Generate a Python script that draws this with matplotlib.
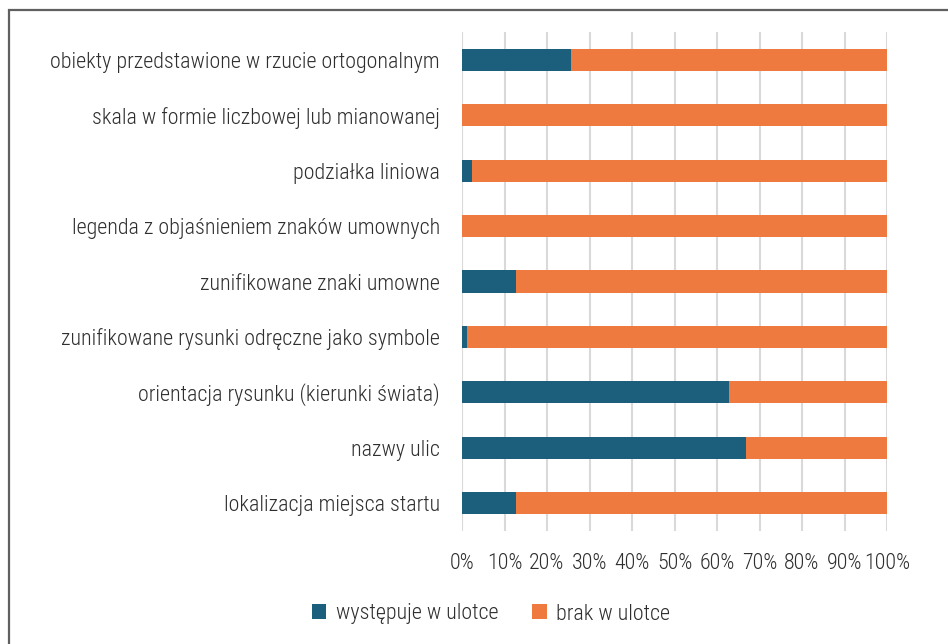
import matplotlib.pyplot as plt
from matplotlib.patches import Rectangle
from matplotlib.ticker import PercentFormatter

plt.rcParams['font.family'] = ['Roboto Condensed', 'DejaVu Sans']
plt.rcParams['font.weight'] = 'light'

# categories, top to bottom
categories = [
    'obiekty przedstawione w rzucie ortogonalnym',
    'skala w formie liczbowej lub mianowanej',
    'podziałka liniowa',
    'legenda z objaśnieniem znaków umownych',
    'zunifikowane znaki umowne',
    'zunifikowane rysunki odręczne jako symbole',
    'orientacja rysunku (kierunki świata)',
    'nazwy ulic',
    'lokalizacja miejsca startu',
]
wystepuje = [25.6, 0.0, 2.4, 0.0, 12.7, 1.2, 62.8, 66.8, 12.7]
brak = [100 - v for v in wystepuje]
series_names = ['występuje w ulotce', 'brak w ulotce']

blue = '#1B5F7C'
orange = '#EE7A3F'
text_col = '#2E2E2E'

fig = plt.figure(figsize=(9.48, 6.44), dpi=100)
ax = fig.add_axes([462 / 948, 1 - 531 / 644, 425 / 948, 499 / 644])

ypos = range(len(categories))
ax.barh(ypos, wystepuje, height=0.4, color=blue, label=series_names[0])
ax.barh(ypos, brak, left=wystepuje, height=0.4, color=orange, label=series_names[1])

ax.set_ylim(len(categories) - 0.5, -0.5)
ax.set_xlim(0, 100)
ax.set_yticks(list(ypos))
ax.set_yticklabels(categories)
ax.set_xticks(range(0, 101, 10))
ax.xaxis.set_major_formatter(PercentFormatter(decimals=0))
ax.tick_params(axis='y', length=0, pad=16, labelsize=15.8, labelcolor=text_col)
ax.tick_params(axis='x', length=0, pad=16, labelsize=15.8, labelcolor=text_col)
for s in ax.spines.values():
    s.set_visible(False)
ax.set_axisbelow(True)
ax.grid(axis='x', color='#D9D9D9', linewidth=1.5)
ax.grid(axis='y', visible=False)

leg = fig.legend(loc='center', bbox_to_anchor=(491 / 948, 1 - 614 / 644), ncol=2,
                 frameon=False, fontsize=15.8, handlelength=0.65, handleheight=0.65,
                 handletextpad=0.45, columnspacing=1.55, labelcolor=text_col)

fig.patches.append(Rectangle((8.5 / 948, -0.1), 1.2, 1.1 - 10.5 / 644, transform=fig.transFigure,
                             fill=False, edgecolor='#606060', linewidth=1.6))

fig.savefig('out.png', dpi=100)
